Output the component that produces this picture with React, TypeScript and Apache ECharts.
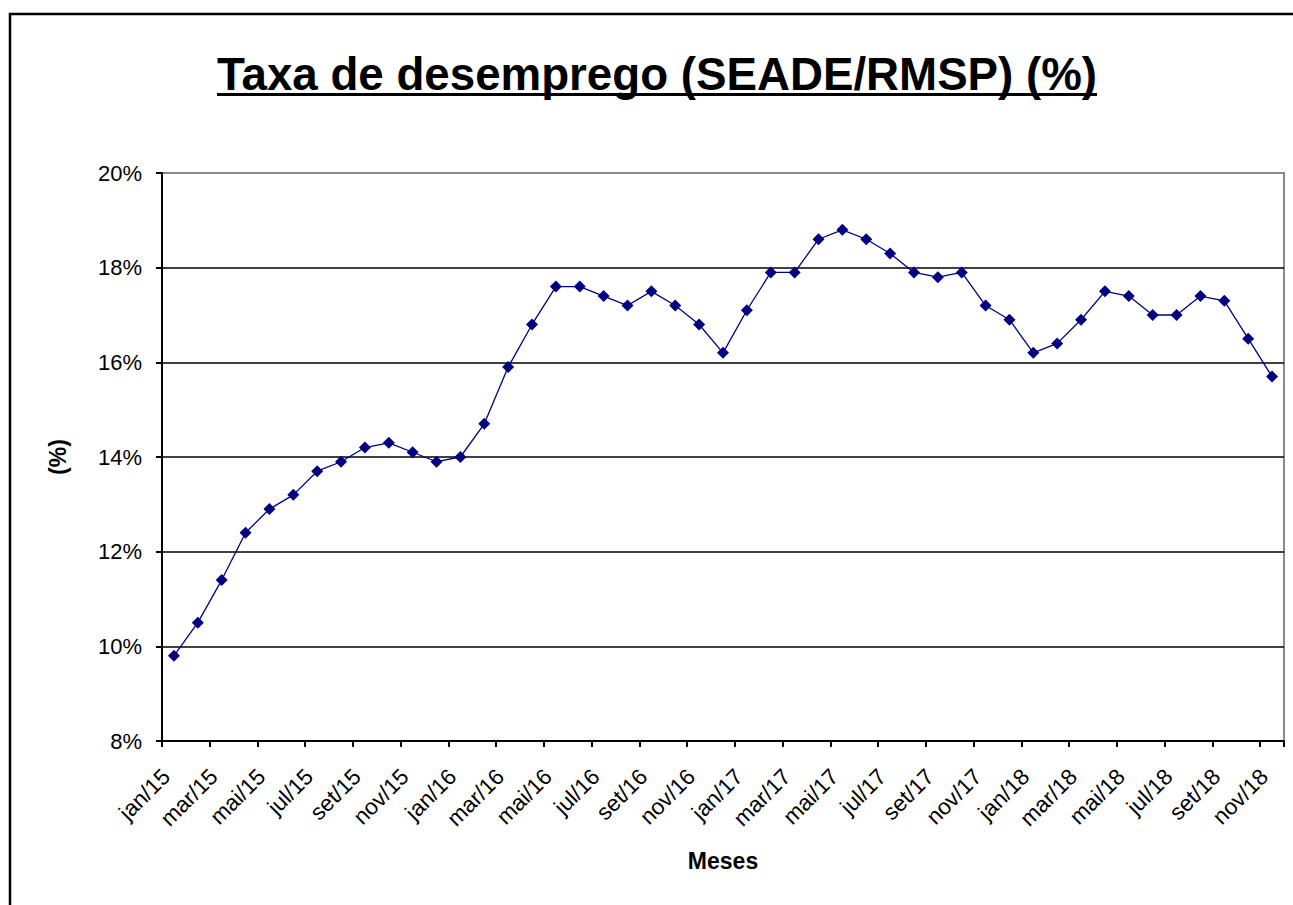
import React, { useEffect, useRef } from "react";
import * as echarts from "echarts";

const months: string[] = [
  "jan/15", "fev/15", "mar/15", "abr/15", "mai/15", "jun/15", "jul/15", "ago/15", "set/15", "out/15", "nov/15", "dez/15",
  "jan/16", "fev/16", "mar/16", "abr/16", "mai/16", "jun/16", "jul/16", "ago/16", "set/16", "out/16", "nov/16", "dez/16",
  "jan/17", "fev/17", "mar/17", "abr/17", "mai/17", "jun/17", "jul/17", "ago/17", "set/17", "out/17", "nov/17", "dez/17",
  "jan/18", "fev/18", "mar/18", "abr/18", "mai/18", "jun/18", "jul/18", "ago/18", "set/18", "out/18", "nov/18",
];

const taxa: number[] = [
  9.8, 10.5, 11.4, 12.4, 12.9, 13.2, 13.7, 13.9, 14.2, 14.3, 14.1, 13.9,
  14.0, 14.7, 15.9, 16.8, 17.6, 17.6, 17.4, 17.2, 17.5, 17.2, 16.8, 16.2,
  17.1, 17.9, 17.9, 18.6, 18.8, 18.6, 18.3, 17.9, 17.8, 17.9, 17.2, 16.9,
  16.2, 16.4, 16.9, 17.5, 17.4, 17.0, 17.0, 17.4, 17.3, 16.5, 15.7,
];

const titleText = "Taxa de desemprego (SEADE/RMSP) (%)";
const yName = "(%)";
const xName = "Meses";
const yMin = 8;
const yMax = 20;
const yStep = 2;

const FONT = "'Liberation Sans', Arial, Helvetica, sans-serif";

function measure(text: string, font: string): number {
  const c = document.createElement("canvas");
  const ctx = c.getContext("2d");
  if (!ctx) return text.length * 25;
  ctx.font = font;
  return ctx.measureText(text).width;
}

export default function App() {
  const ref = useRef<HTMLDivElement>(null);

  useEffect(() => {
    if (!ref.current) return;
    const chart = echarts.init(ref.current, undefined, { renderer: "svg" });
    const titleSize = 45.7;
    const titleX = 657;
    const tw = measure(titleText, `bold ${titleSize}px ${FONT}`);

    chart.setOption({
      animation: false,
      backgroundColor: "#ffffff",
      grid: {
        left: 162,
        right: 9,
        top: 173,
        bottom: 164,
        show: true,
        borderColor: "#8a8a8a",
        borderWidth: 2,
        backgroundColor: "transparent",
      },
      graphic: [
        {
          type: "polyline",
          shape: { points: [[1293, 14], [10, 14], [10, 905]] },
          style: { stroke: "#000", lineWidth: 2.5, fill: "none" },
          silent: true,
        },
        {
          type: "text",
          x: titleX,
          y: 74,
          style: {
            text: titleText,
            font: `bold ${titleSize}px ${FONT}`,
            fill: "#000",
            textAlign: "center",
            textVerticalAlign: "middle",
          },
          silent: true,
        },
        {
          type: "rect",
          shape: { x: titleX - tw / 2, y: 93, width: tw, height: 3 },
          style: { fill: "#000" },
          silent: true,
        },
      ],
      xAxis: {
        type: "category",
        data: months,
        boundaryGap: true,
        name: xName,
        nameLocation: "middle",
        nameGap: 108,
        nameTextStyle: { fontFamily: FONT, fontWeight: "bold", fontSize: 23, color: "#000" },
        axisLine: { show: true, lineStyle: { color: "#000", width: 2 } },
        axisTick: { show: true, interval: 1, alignWithLabel: false, length: 6, lineStyle: { color: "#000", width: 2 } },
        axisLabel: {
          interval: 1,
          rotate: 45,
          margin: 24,
          padding: [0, 11, 0, 0],
          fontFamily: FONT,
          fontSize: 22.5,
          color: "#000",
        },
        splitLine: { show: false },
      },
      yAxis: {
        type: "value",
        min: yMin,
        max: yMax,
        interval: yStep,
        name: yName,
        nameLocation: "middle",
        nameGap: 93,
        nameRotate: 90,
        nameTextStyle: { fontFamily: FONT, fontWeight: "bold", fontSize: 23, color: "#000" },
        axisLine: { show: true, lineStyle: { color: "#000", width: 2 } },
        axisTick: { show: true, length: 6, lineStyle: { color: "#000", width: 2 } },
        axisLabel: {
          formatter: "{value}%",
          margin: 20,
          fontFamily: FONT,
          fontSize: 22,
          color: "#000",
        },
        splitLine: { show: true, showMaxLine: false, showMinLine: false, lineStyle: { color: "#000", width: 1.6 } },
      },
      series: [
        {
          type: "line",
          data: taxa,
          symbol: "diamond",
          symbolSize: 12,
          lineStyle: { color: "#000080", width: 1.3 },
          itemStyle: { color: "#000080" },
        },
      ],
    });

    return () => chart.dispose();
  }, []);

  return (
    <div
      ref={ref}
      style={{ position: "absolute", left: 0, top: 0, width: 1293, height: 905 }}
    />
  );
}
